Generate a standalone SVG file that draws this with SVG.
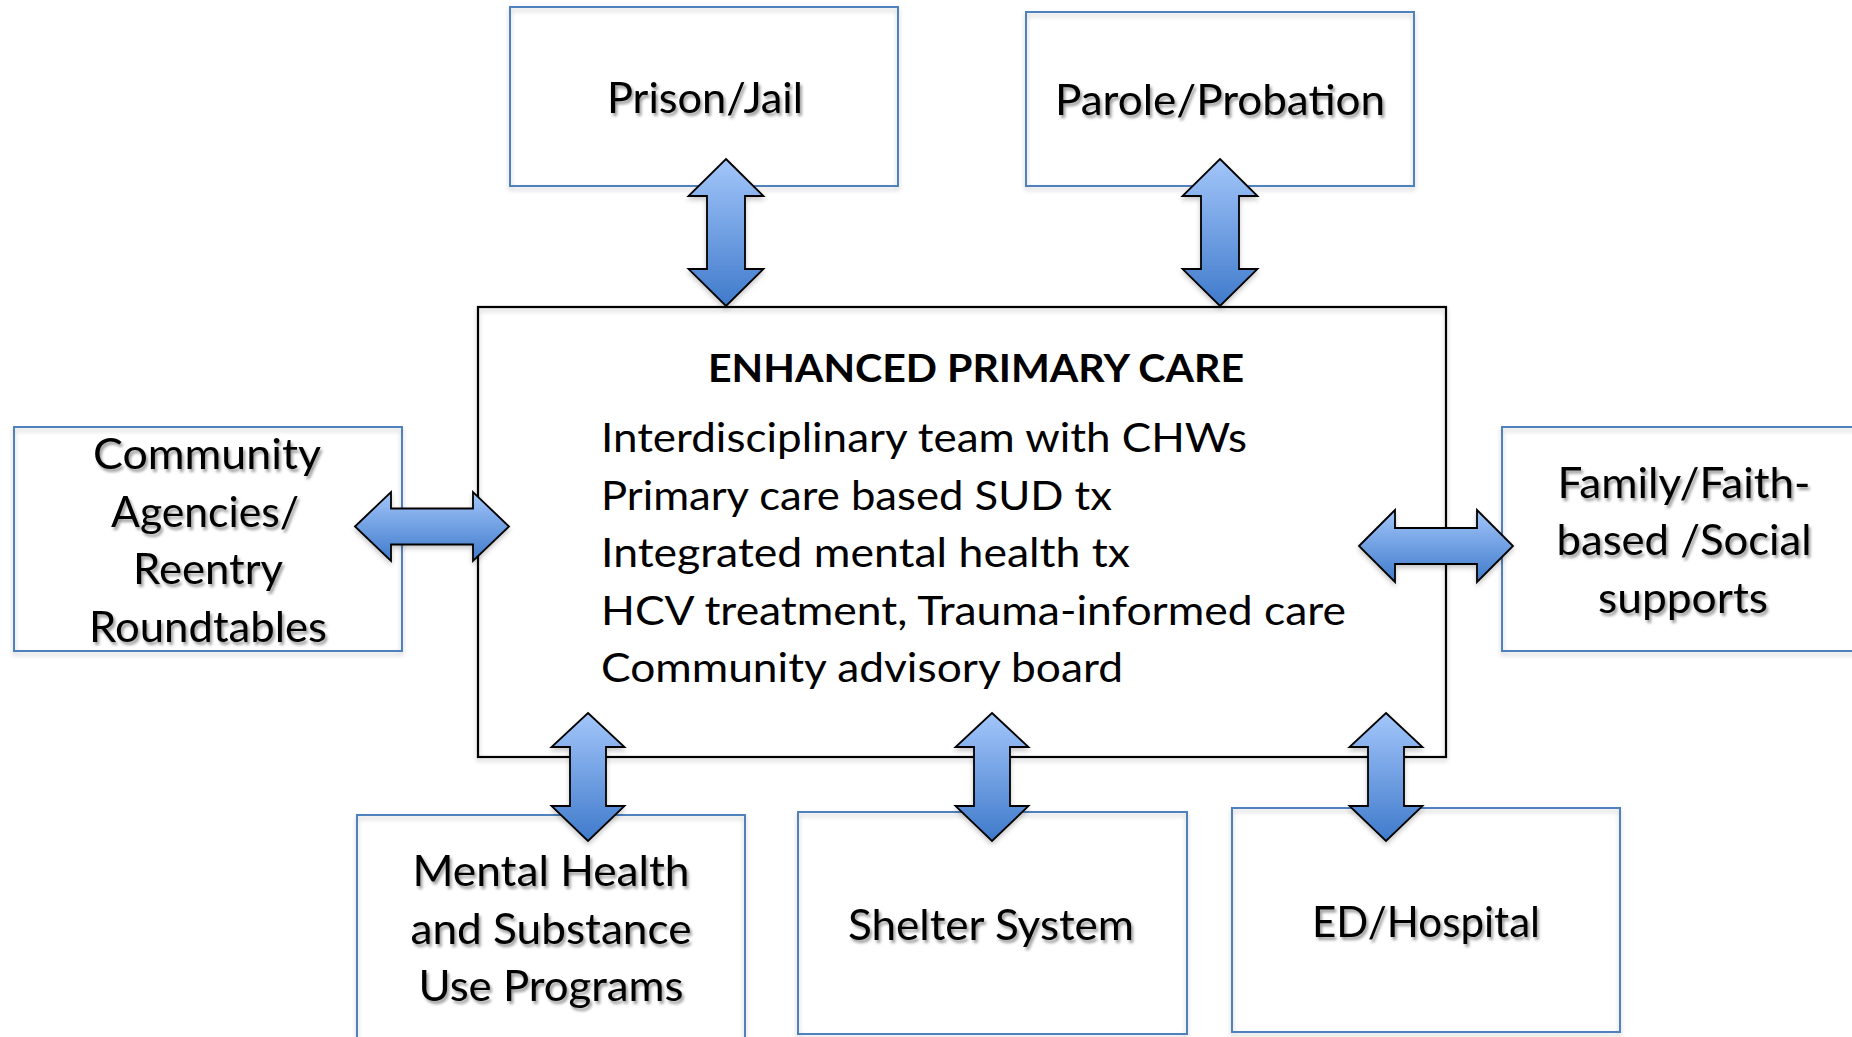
<svg xmlns="http://www.w3.org/2000/svg" width="1852" height="1037" viewBox="0 0 1852 1037">
<defs>
<linearGradient id="ag" x1="0" y1="0" x2="0" y2="1">
<stop offset="0" stop-color="#A3C6FA"/>
<stop offset="1" stop-color="#3F7ACB"/>
</linearGradient>
<filter id="bs" x="-5%" y="-5%" width="110%" height="115%">
<feGaussianBlur in="SourceAlpha" stdDeviation="2.5"/>
<feOffset dx="0" dy="3"/>
<feComponentTransfer><feFuncA type="linear" slope="0.22"/></feComponentTransfer>
<feMerge><feMergeNode/><feMergeNode in="SourceGraphic"/></feMerge>
</filter>
<filter id="ts" x="-10%" y="-30%" width="120%" height="170%">
<feGaussianBlur in="SourceAlpha" stdDeviation="1.8"/>
<feOffset dx="1.5" dy="2.5"/>
<feComponentTransfer><feFuncA type="linear" slope="0.4"/></feComponentTransfer>
<feMerge><feMergeNode/><feMergeNode in="SourceGraphic"/></feMerge>
</filter>
</defs>
<style>
.ob{fill:none;stroke:#4F81BD;stroke-width:2;filter:url(#bs)}
.mb{fill:none;stroke:#000;stroke-width:2.2;filter:url(#bs)}
.t{font-family:Lato,'Liberation Sans',sans-serif;font-size:42px;fill:#000;text-anchor:middle;filter:url(#ts)}
.b{font-family:Lato,'Liberation Sans',sans-serif;font-size:41px;fill:#000}
.h{font-family:Lato,'Liberation Sans',sans-serif;font-size:38px;font-weight:bold;fill:#000;text-anchor:middle}
.ar{fill:url(#ag);stroke:#000;stroke-width:1.8;stroke-linejoin:miter;filter:url(#bs)}
</style>
<rect width="1852" height="1037" fill="#fff"/>

<g id="prison">
<rect class="ob" x="510" y="7" width="388" height="179"/>
<text class="t" x="705" y="113" textLength="196" lengthAdjust="spacingAndGlyphs">Prison/Jail</text>
</g>
<g id="parole">
<rect class="ob" x="1026" y="12" width="388" height="174"/>
<text class="t" x="1220" y="115" textLength="330" lengthAdjust="spacingAndGlyphs">Parole/Probation</text>
</g>
<g id="community">
<rect class="ob" x="14" y="427" width="388" height="224"/>
<text class="t" x="207" y="469" textLength="228" lengthAdjust="spacingAndGlyphs">Community</text>
<text class="t" x="205" y="527" textLength="188" lengthAdjust="spacingAndGlyphs">Agencies/</text>
<text class="t" x="208" y="584" textLength="150" lengthAdjust="spacingAndGlyphs">Reentry</text>
<text class="t" x="208" y="642" textLength="238" lengthAdjust="spacingAndGlyphs">Roundtables</text>
</g>
<g id="family">
<rect class="ob" x="1502" y="427" width="400" height="224"/>
<text class="t" x="1684" y="498" textLength="253" lengthAdjust="spacingAndGlyphs">Family/Faith-</text>
<text class="t" x="1684" y="555" textLength="255" lengthAdjust="spacingAndGlyphs">based /Social</text>
<text class="t" x="1683" y="613" textLength="170" lengthAdjust="spacingAndGlyphs">supports</text>
</g>
<g id="mental">
<rect class="ob" x="357" y="815" width="388" height="240"/>
<text class="t" x="551" y="886" textLength="277" lengthAdjust="spacingAndGlyphs">Mental Health</text>
<text class="t" x="551" y="944" textLength="281" lengthAdjust="spacingAndGlyphs">and Substance</text>
<text class="t" x="551" y="1001" textLength="265" lengthAdjust="spacingAndGlyphs">Use Programs</text>
</g>
<g id="shelter">
<rect class="ob" x="798" y="812" width="389" height="222"/>
<text class="t" x="991" y="940" textLength="286" lengthAdjust="spacingAndGlyphs">Shelter System</text>
</g>
<g id="ed">
<rect class="ob" x="1232" y="808" width="388" height="224"/>
<text class="t" x="1426" y="937" textLength="228" lengthAdjust="spacingAndGlyphs">ED/Hospital</text>
</g>
<g id="enhanced">
<rect class="mb" x="478" y="307" width="968" height="450"/>
<text class="h" x="976" y="382" textLength="536" lengthAdjust="spacingAndGlyphs">ENHANCED PRIMARY CARE</text>
<text class="b" x="601" y="452" textLength="646" lengthAdjust="spacingAndGlyphs">Interdisciplinary team with CHWs</text>
<text class="b" x="601" y="509.5" textLength="511" lengthAdjust="spacingAndGlyphs">Primary care based SUD tx</text>
<text class="b" x="601" y="567" textLength="529" lengthAdjust="spacingAndGlyphs">Integrated mental health tx</text>
<text class="b" x="601" y="624.5" textLength="745" lengthAdjust="spacingAndGlyphs">HCV treatment, Trauma-informed care</text>
<text class="b" x="601" y="681.5" textLength="522" lengthAdjust="spacingAndGlyphs">Community advisory board</text>
</g>

<g id="connectors">
<polygon class="ar" points="726,159 763.5,196 745,196 745,269 763.5,269 726,306 688.5,269 707,269 707,196 688.5,196"/>
<polygon class="ar" points="1220,159 1257.5,196 1239,196 1239,269 1257.5,269 1220,306 1182.5,269 1201,269 1201,196 1182.5,196"/>
<polygon class="ar" points="355,526.5 391,492 391,508.5 473,508.5 473,492 509,526.5 473,561 473,544.5 391,544.5 391,561"/>
<polygon class="ar" points="1359,546 1395,510 1395,528 1477,528 1477,510 1513,546 1477,582 1477,564 1395,564 1395,582"/>
<polygon class="ar" points="588,713 624.5,747 606,747 606,806 624.5,806 588,841 551.5,806 570,806 570,747 551.5,747"/>
<polygon class="ar" points="992,713 1028.5,747 1010,747 1010,806 1028.5,806 992,841 955.5,806 974,806 974,747 955.5,747"/>
<polygon class="ar" points="1386,713 1422.5,747 1404,747 1404,806 1422.5,806 1386,841 1349.5,806 1368,806 1368,747 1349.5,747"/>
</g>
</svg>
